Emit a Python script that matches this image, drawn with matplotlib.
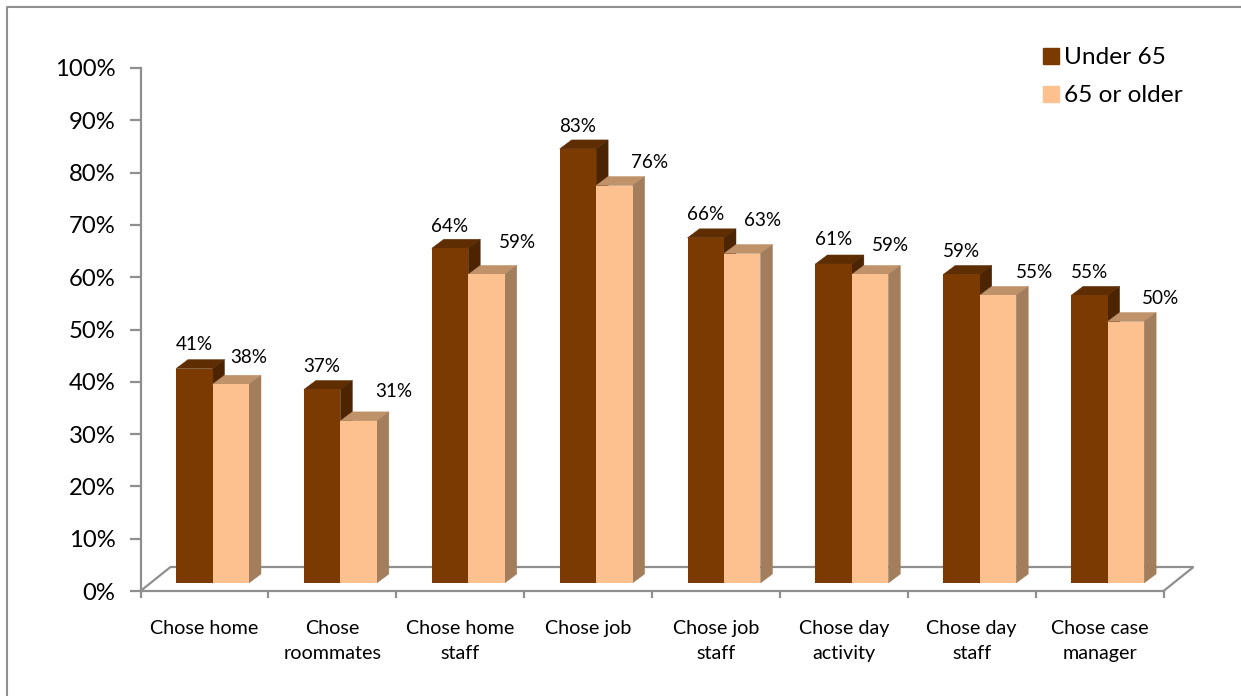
import matplotlib

matplotlib.use("Agg")
import numpy as np
from matplotlib import pyplot as plt
from matplotlib.lines import Line2D

categories = [
    "Chose home",
    "Chose\nroommates",
    "Chose home\nstaff",
    "Chose job",
    "Chose job\nstaff",
    "Chose day\nactivity",
    "Chose day\nstaff",
    "Chose case\nmanager",
]
under_65 = [41, 37, 64, 83, 66, 61, 59, 55]
over_65 = [38, 31, 59, 76, 63, 59, 55, 50]
y_ticks = list(range(0, 101, 10))

# label nudges in pixels (dx from bar centre, dy above bar top), placed by hand
shift_under = [(0, 24), (0, 23), (0, 22), (0, 22), (0, 23), (0, 24), (0, 23), (0, 23)]
shift_over = [(18, 27), (35, 29), (31, 32), (35, 23), (20, 33), (20, 29), (37, 23), (35, 23)]

W, H = 1241, 696
plt.rcParams["font.family"] = ["Lato", "DejaVu Sans"]
GREY = "#8f8f8f"

fig = plt.figure(figsize=(W / 100, H / 100), dpi=100)
left, right, top, bottom = 140.5, 1163.5, 68, 591
ax = fig.add_axes([left / W, 1 - bottom / H, (right - left) / W, (bottom - top) / H])
ax.set_xlim(0, len(categories))
ax.set_ylim(0, 100)
ax.patch.set_alpha(0)

px_x = (right - left) / len(categories)
px_y = (bottom - top) / 100

# fake 3D depth
floor = 8 / px_y
bar_w = 36.5 / px_x
bar_dx = 12 / px_x
bar_dy = 9 / px_y
start = 35.5 / px_x


def draw_bars(xs, vals, front, top_c, side_c, z):
    for x, v in zip(xs, vals):
        t = floor + v
        ax.fill(
            [x, x + bar_dx, x + bar_w + bar_dx, x + bar_w],
            [t, t + bar_dy, t + bar_dy, t],
            color=top_c, lw=0.3, zorder=z, clip_on=False,
        )
        ax.fill(
            [x + bar_w, x + bar_w + bar_dx, x + bar_w + bar_dx, x + bar_w],
            [floor, floor + bar_dy, t + bar_dy, t],
            color=side_c, lw=0.3, zorder=z, clip_on=False,
        )
    ax.bar(xs, vals, bar_w, bottom=floor, align="edge", color=front, zorder=z)


idx = np.arange(len(categories))
draw_bars(idx + start, under_65, "#7a3a02", "#5e2d02", "#4c2401", 3)
draw_bars(idx + start + bar_w, over_65, "#fdc18f", "#bf9269", "#a37e5d", 4)

# floor of the 3D box
back_dx = 30 / px_x
back_dy = 24 / px_y
n = len(categories)
ax.plot(
    [0, back_dx, n + back_dx, n],
    [0, back_dy, back_dy, 0],
    color=GREY, lw=1.6, zorder=2, clip_on=False, solid_joinstyle="miter",
)

for i in idx:
    x1 = i + start + bar_w / 2
    x2 = x1 + bar_w
    t1 = floor + under_65[i]
    t2 = floor + over_65[i]
    ax.annotate(f"{under_65[i]}%", (x1, t1), xytext=(shift_under[i][0] * 0.72, shift_under[i][1] * 0.72),
                textcoords="offset points", ha="center", va="center", fontsize=13.6, color="black", zorder=6)
    ax.annotate(f"{over_65[i]}%", (x2, t2), xytext=(shift_over[i][0] * 0.72, shift_over[i][1] * 0.72),
                textcoords="offset points", ha="center", va="center", fontsize=13.6, color="black", zorder=6)

ax.set_yticks(y_ticks)
ax.set_yticklabels([f"{v}%" for v in y_ticks], fontsize=17.2)
ax.set_xticks(np.arange(n + 1))
ax.set_xticklabels([])
ax.set_xticks(idx + 0.5, minor=True)
ax.set_xticklabels(categories, minor=True, fontsize=14.2, linespacing=1.56)
ax.tick_params(axis="x", which="minor", length=0, pad=21)
ax.tick_params(axis="x", which="major", length=5, width=1.6, color=GREY)
ax.tick_params(axis="y", length=8, width=1.6, color=GREY, pad=10)

for s in ["top", "right"]:
    ax.spines[s].set_visible(False)
for s in ["left", "bottom"]:
    ax.spines[s].set_color(GREY)
    ax.spines[s].set_linewidth(1.6)

handles = [
    Line2D([], [], marker="s", ls="none", ms=11, color="#7a3a02", label="Under 65"),
    Line2D([], [], marker="s", ls="none", ms=11, color="#fdc18f", label="65 or older"),
]
ax.legend(
    handles=handles,
    loc="upper left",
    bbox_to_anchor=(1027 / W, 1 - 47 / H),
    bbox_transform=fig.transFigure,
    frameon=False,
    fontsize=17.6,
    labelspacing=0.70,
    handletextpad=-0.47,
    borderpad=0,
    borderaxespad=0,
)

# chart border, only left and top show in the crop
fig.add_artist(Line2D([7 / W, 7 / W, 1], [0, 1 - 7 / H, 1 - 7 / H], color=GREY, lw=1.5))

plt.savefig("out.png", dpi=100)
